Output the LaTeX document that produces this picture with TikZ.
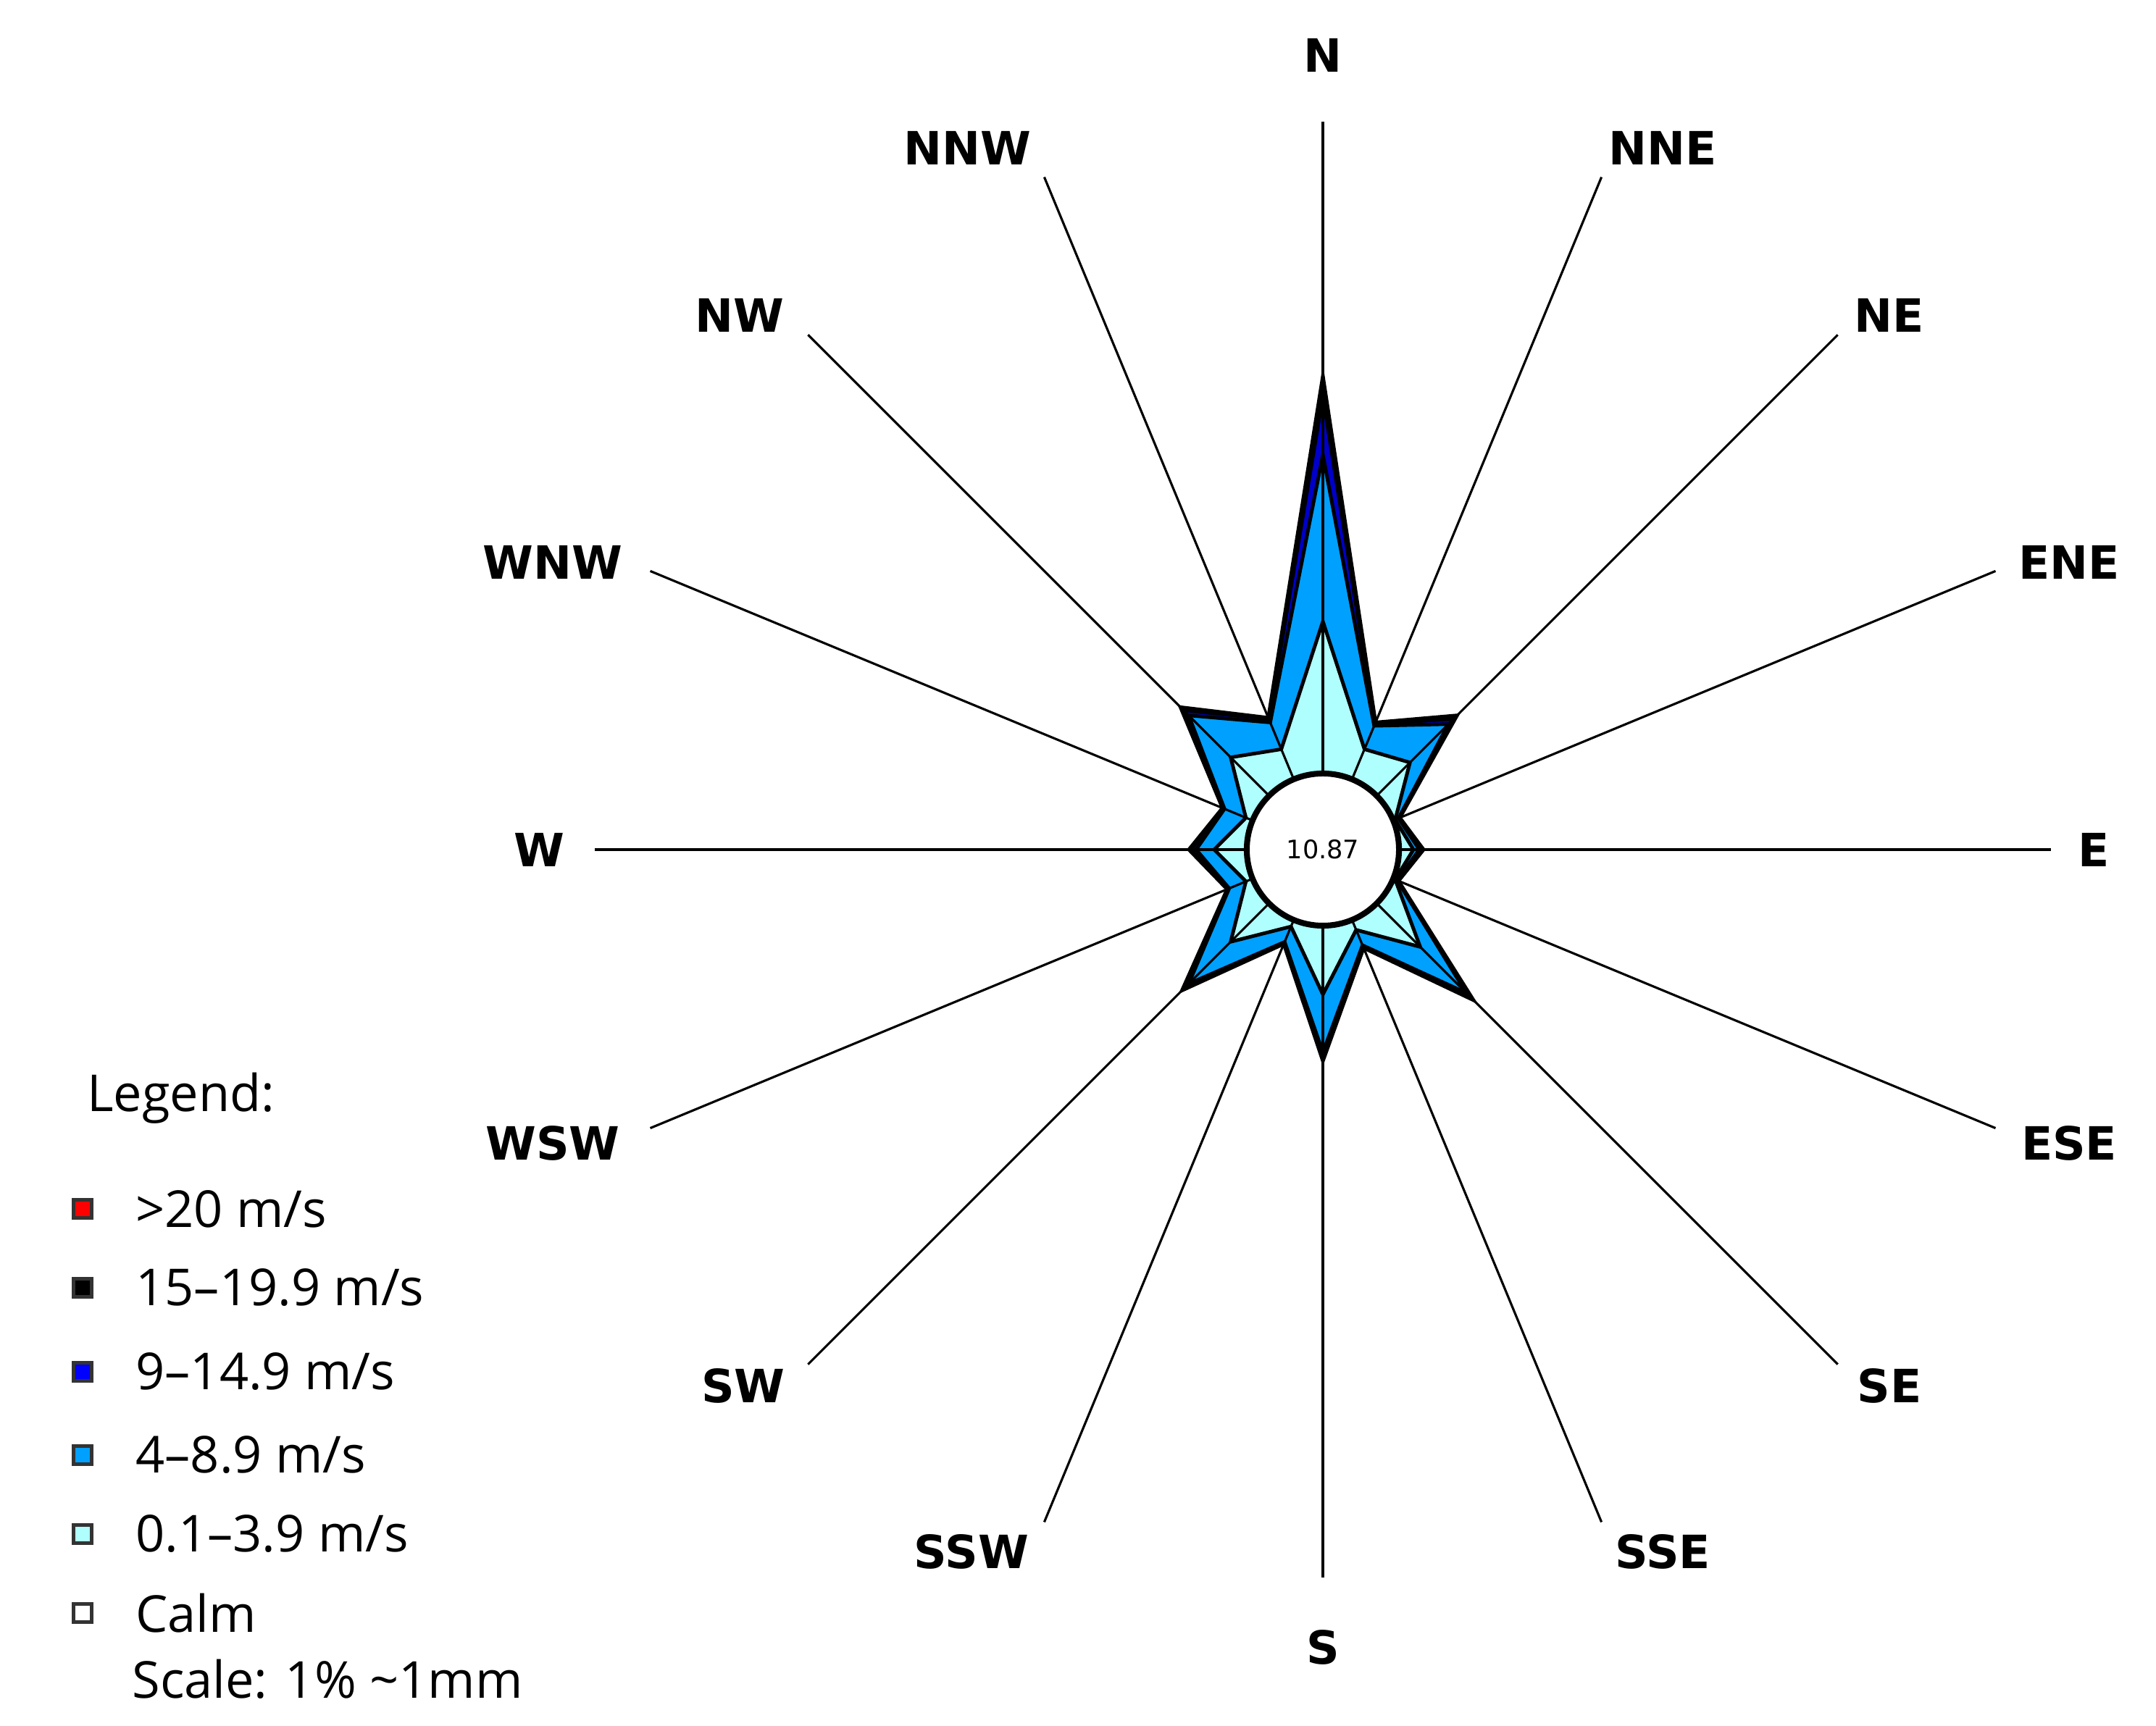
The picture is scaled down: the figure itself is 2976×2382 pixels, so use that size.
\documentclass[tikz,border=0pt]{standalone}
\usepackage{fontspec}
\setmainfont{DejaVu Sans}
\newfontfamily\legfont{Open Sans}
\definecolor{cyanL}{HTML}{B0FFFF}
\definecolor{blueM}{HTML}{00A0FF}
\definecolor{blueD}{HTML}{0000C8}
\def\Ra{{654,190,262,115,139,113,294,147,292,141,275,143,185,150,278,197}}
\def\Rb{{625,188,255,114,137,112,290,145,288,140,270,142,182,149,272,195}}
\def\Rc{{545,185,245,113,133,111,280,143,280,138,262,140,175,147,262,190}}
\def\Rd{{315,150,170,108,125,108,190,120,200,115,180,115,150,115,180,150}}
\begin{document}
\begin{tikzpicture}[x=0.01cm,y=0.01cm,
  lab/.style={font=\bfseries\fontsize{18}{20}\selectfont},
  leg/.style={font=\legfont\fontsize{20}{24}\selectfont,anchor=west},
  legmark/.style={draw=black!80,line width=1.2pt,minimum size=0.25cm,inner sep=0pt},
  petal/.style={draw=black,line width=1.4pt,line join=miter},
  spoke/.style={draw=black,line width=0.9pt}]
\useasboundingbox (0,0) rectangle (2976,2382);
\coordinate (C) at (1826,1209);
\begin{scope}[shift={(C)}]
\filldraw[petal,fill=black] plot[samples at={0,...,15}] ({90-22.5*\x}:{\Ra[int(\x)]}) -- cycle;
\filldraw[petal,fill=blueD] plot[samples at={0,...,15}] ({90-22.5*\x}:{\Rb[int(\x)]}) -- cycle;
\filldraw[petal,fill=blueM] plot[samples at={0,...,15}] ({90-22.5*\x}:{\Rc[int(\x)]}) -- cycle;
\filldraw[petal,fill=cyanL] plot[samples at={0,...,15}] ({90-22.5*\x}:{\Rd[int(\x)]}) -- cycle;
\foreach \k in {0,...,15} \draw[spoke] ({90-22.5*\k}:100) -- ({90-22.5*\k}:1005);
\end{scope}
\node[draw=black,line width=2.3pt,fill=white,circle,minimum size=2.1cm,inner sep=0pt,font=\fontsize{10}{12}\selectfont] (calm) at (C) {10.87};
% direction labels
\node[lab] (lN) at (1826,2306) {N};
\node[lab] (lNNE) at (2295,2178) {NNE};
\node[lab] (lNE) at (2608,1947) {NE};
\node[lab] (lENE) at (2856,1606) {ENE};
\node[lab] (lE) at (2890,1209) {E};
\node[lab] (lESE) at (2856,804) {ESE};
\node[lab] (lSE) at (2608,469) {SE};
\node[lab] (lSSE) at (2295,240) {SSE};
\node[lab] (lS) at (1826,108) {S};
\node[lab] (lSSW) at (1341,240) {SSW};
\node[lab] (lSW) at (1026,469) {SW};
\node[lab] (lWSW) at (763,804) {WSW};
\node[lab] (lW) at (744,1209) {W};
\node[lab] (lWNW) at (763,1606) {WNW};
\node[lab] (lNW) at (1021,1947) {NW};
\node[lab] (lNNW) at (1335,2178) {NNW};
% legend
\node[leg] (lg) at (108,866) {Legend:};
\node[legmark,fill=red] (m1) at (114,713) {};
\node[leg] (t1) at (175,713) {>20 m/s};
\node[legmark,fill=black] (m2) at (114,604) {};
\node[leg] (t2) at (175,604) {15–19.9 m/s};
\node[legmark,fill=blue] (m3) at (114,488) {};
\node[leg] (t3) at (175,488) {9–14.9 m/s};
\node[legmark,fill=blueM] (m4) at (114,373) {};
\node[leg] (t4) at (175,373) {4–8.9 m/s};
\node[legmark,fill=cyanL] (m5) at (114,264) {};
\node[leg] (t5) at (175,264) {0.1–3.9 m/s};
\node[legmark,fill=white] (m6) at (114,155) {};
\node[leg] (t6) at (175,155) {Calm};
\node[leg] (t7) at (170,64) {Scale: 1\% \textasciitilde1mm};
\end{tikzpicture}
\end{document}
